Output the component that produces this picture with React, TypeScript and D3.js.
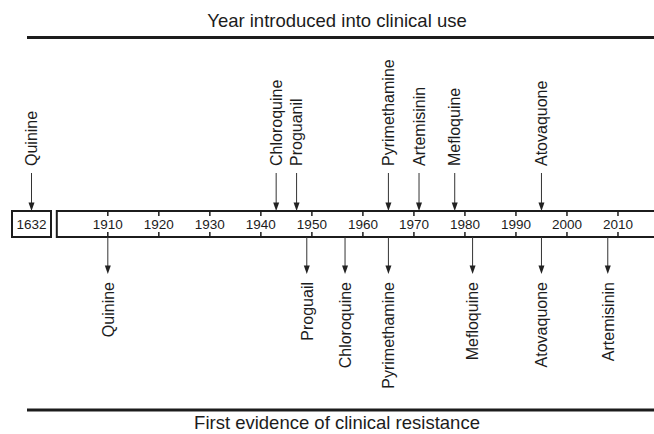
import React from "react";
import * as d3 from "d3";

// drugs: year introduced into clinical use
const introDrugs = ["Quinine", "Chloroquine", "Proguanil", "Pyrimethamine", "Artemisinin", "Mefloquine", "Atovaquone"];
const introYears = [1632, 1943, 1947, 1965, 1971, 1978, 1995];

// drugs: first evidence of clinical resistance
const resistDrugs = ["Quinine", "Proguail", "Chloroquine", "Pyrimethamine", "Mefloquine", "Atovaquone", "Artemisinin"];
const resistYears = [1910, 1949, 1956.5, 1965, 1981.5, 1995, 2008];

const tickYears = [1910, 1920, 1930, 1940, 1950, 1960, 1970, 1980, 1990, 2000, 2010];
const earlyYear = 1632;

const topTitle = "Year introduced into clinical use";
const bottomTitle = "First evidence of clinical resistance";

const W = 654;
const H = 434;
const font = "'Liberation Sans', Arial, Helvetica, sans-serif";
const ink = "#1c1c1c";

// axis geometry
const boxTop = 211;
const boxBottom = 237;
const boxMid = (boxTop + boxBottom) / 2;
const earlyBox = { x0: 12, x1: 51 };

const x = d3.scaleLinear().domain([1900, 2020]).range([56.8, 669]);
const xPos = (year: number) => (year < 1900 ? (earlyBox.x0 + earlyBox.x1) / 2 : x(year));

const arrowHead = (cx: number, tipY: number) =>
  `M${cx},${tipY}L${cx - 3},${tipY - 8.5}L${cx + 3},${tipY - 8.5}Z`;

export default function App() {
  return (
    <svg
      width={W}
      height={H}
      style={{ position: "absolute", left: 0, top: 0, background: "#fff" }}
      fontFamily={font}
    >
      {/* titles and rules */}
      <text x={337} y={27} textAnchor="middle" fontSize={18.5} fill={ink}>
        {topTitle}
      </text>
      <line x1={27} x2={W} y1={37.5} y2={37.5} stroke={ink} strokeWidth={3} />
      <line x1={27} x2={W} y1={410} y2={410} stroke={ink} strokeWidth={3} />
      <text x={337} y={429} textAnchor="middle" fontSize={18.5} fill={ink}>
        {bottomTitle}
      </text>

      {/* broken axis: early year box */}
      <rect
        x={earlyBox.x0}
        y={boxTop}
        width={earlyBox.x1 - earlyBox.x0}
        height={boxBottom - boxTop}
        fill="none"
        stroke={ink}
        strokeWidth={2}
      />
      <text x={xPos(earlyYear)} y={boxMid} dy="0.36em" textAnchor="middle" fontSize={13.5} fill={ink}>
        {earlyYear}
      </text>

      {/* main timeline box */}
      <rect
        x={x(1900)}
        y={boxTop}
        width={x(2020) - x(1900)}
        height={boxBottom - boxTop}
        fill="none"
        stroke={ink}
        strokeWidth={2}
      />
      {tickYears.map((t) => (
        <g key={t}>
          <line x1={x(t)} x2={x(t)} y1={boxTop} y2={boxTop + 5} stroke={ink} strokeWidth={1.5} />
          <line x1={x(t)} x2={x(t)} y1={boxBottom - 5} y2={boxBottom} stroke={ink} strokeWidth={1.5} />
          <text x={x(t)} y={boxMid} dy="0.36em" textAnchor="middle" fontSize={13.5} fill={ink}>
            {t}
          </text>
        </g>
      ))}

      {/* introduction arrows */}
      {introDrugs.map((d, i) => {
        const cx = xPos(introYears[i]);
        return (
          <g key={"in" + d}>
            <line x1={cx} x2={cx} y1={173} y2={204} stroke="#333" strokeWidth={1} />
            <path d={arrowHead(cx, 211)} fill="#222" />
            <text
              transform={`translate(${cx},166) rotate(-90)`}
              dy="0.36em"
              textAnchor="start"
              fontSize={16}
              fill={ink}
            >
              {d}
            </text>
          </g>
        );
      })}

      {/* resistance arrows */}
      {resistDrugs.map((d, i) => {
        const cx = xPos(resistYears[i]);
        return (
          <g key={"re" + d}>
            <line x1={cx} x2={cx} y1={boxBottom} y2={267} stroke="#333" strokeWidth={1} />
            <path d={arrowHead(cx, 274)} fill="#222" />
            <text
              transform={`translate(${cx},282) rotate(-90)`}
              dy="0.36em"
              textAnchor="end"
              fontSize={16}
              fill={ink}
            >
              {d}
            </text>
          </g>
        );
      })}
    </svg>
  );
}
